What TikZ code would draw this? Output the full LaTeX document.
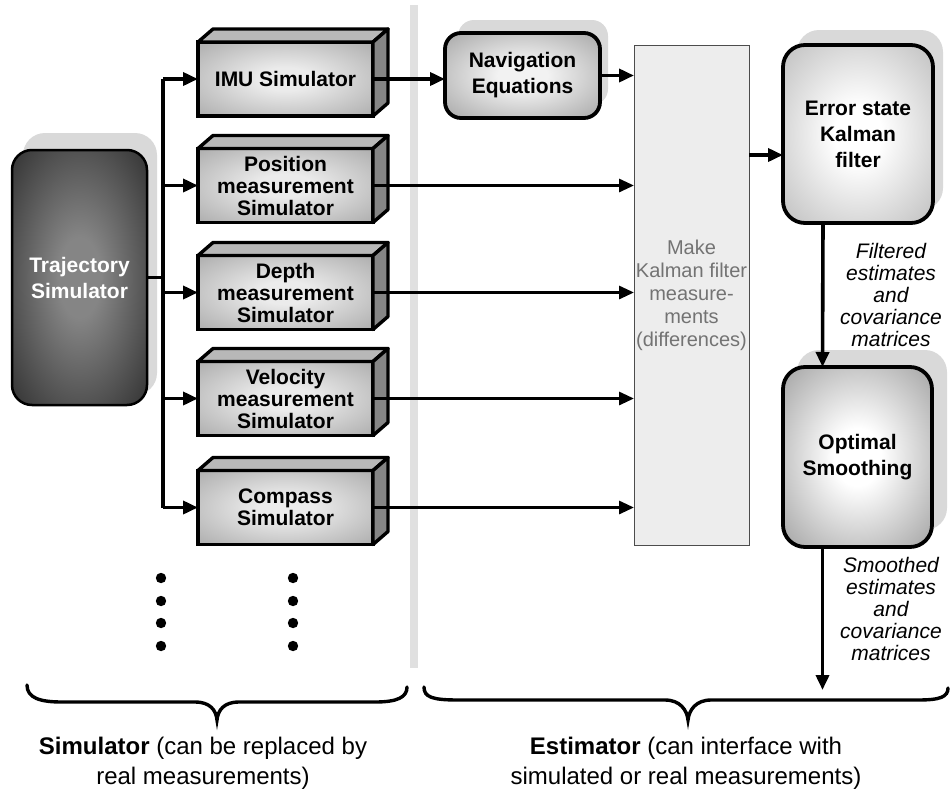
\documentclass[tikz,border=0pt]{standalone}
\usepackage{fontspec}
\setmainfont{Liberation Sans}
\usetikzlibrary{arrows.meta,calc}
\colorlet{glowin}{white}
\colorlet{glowout}{black!40}
\pgfdeclareradialshading[glowin,glowout]{softglow}{\pgfpoint{0bp}{0bp}}{%
  color(0bp)=(glowin); color(8bp)=(glowin); color(50bp)=(glowout)}
\newcommand\boxfaces[1]{%
  \filldraw[fill=black!28,line width=3.4pt,line join=round] (#1.north west) -- ++(15,-13) -- ($(#1.north east)+(15,-13)$) -- (#1.north east) -- cycle;
  \filldraw[fill=black!48,line width=3.4pt,line join=round] (#1.north east) -- ++(15,-13) -- ($(#1.south east)+(15,-13)$) -- (#1.south east) -- cycle;}
\begin{document}
\begin{tikzpicture}[x=1pt,y=-1pt,
  arr/.style={line width=3.6pt,-{Triangle[length=15pt,width=13pt]}},
  conn/.style={line width=3.6pt},
  simbox/.style={draw=black,line width=3.4pt,outer sep=0pt,minimum width=175pt,minimum height=74pt,
     align=center,inner sep=1pt,
     font=\fontsize{21}{22}\selectfont\bfseries},
  rbox/.style={draw=black,line width=3.8pt,outer sep=0pt,rounded corners=22pt,align=center,
     font=\fontsize{21}{26}\selectfont\bfseries},
  shadowbox/.style={fill=black!15,rounded corners=22pt},
  lbl/.style={align=center,font=\fontsize{21}{22}\selectfont\itshape},
  bottomtxt/.style={align=center,font=\fontsize{24}{30}\selectfont},
  brace/.style={line width=3.4pt,line cap=round}
]
\useasboundingbox (0,0) rectangle (951,798);

% divider
\draw[black!12,line width=8pt] (414,5) -- (414,668);

% shadows
\fill[shadowbox] (23,133) rectangle (157,395);
\fill[shadowbox,rounded corners=16pt] (458,20) rectangle (608,105);
\fill[shadowbox] (797,30) rectangle (943,210);
\fill[shadowbox] (797,350) rectangle (947,530);

% trajectory simulator
\colorlet{glowin}{black!48}\colorlet{glowout}{black!97}
\node[draw=black,line width=2.5pt,outer sep=0pt,rounded corners=20pt,minimum width=135pt,minimum height=255pt,
      shading=softglow,align=center,text=white,
      font=\fontsize{21}{26}\selectfont\bfseries] (traj) at (79.5,277.5) {Trajectory\\Simulator};

% simulator boxes
\colorlet{glowin}{black!8}\colorlet{glowout}{black!45}
\node[simbox,shading=softglow] (imu)  at (285.5,79)    {IMU Simulator};
\node[simbox,shading=softglow] (pos)  at (285.5,185.5) {Position\\measurement\\Simulator};
\node[simbox,shading=softglow] (dep)  at (285.5,292.5) {Depth\\measurement\\Simulator};
\node[simbox,shading=softglow] (vel)  at (285.5,398.5) {Velocity\\measurement\\Simulator};
\node[simbox,shading=softglow] (comp) at (285.5,507.5) {Compass\\Simulator};
\boxfaces{imu}\boxfaces{pos}\boxfaces{dep}\boxfaces{vel}\boxfaces{comp}

% estimator nodes
\colorlet{glowin}{black!5}\colorlet{glowout}{black!50}
\node[rbox,rounded corners=16pt,minimum width=155pt,minimum height=85pt,shading=softglow] (nav) at (522.5,75.5) {Navigation\\Equations};
\node[draw=black!70,line width=1pt,outer sep=0pt,fill=black!7,minimum width=115pt,minimum height=500pt,inner sep=0pt,align=center,
      text=black!55,font=\fontsize{20}{23}\selectfont] (make) at (691.5,295) {Make\\Kalman filter\\measure-\\ments\\(differences)};
\colorlet{glowin}{white}\colorlet{glowout}{black!38}
\node[rbox,minimum width=150pt,minimum height=178pt,shading=softglow] (kal) at (858,134) {Error state\\Kalman\\filter};
\colorlet{glowin}{white}\colorlet{glowout}{black!55}
\node[rbox,minimum width=149pt,minimum height=180pt,shading=softglow] (opt) at (857.5,457) {Optimal\\Smoothing};

% bus
\coordinate (busT) at (163,79);
\coordinate (busB) at (163,507.5);
\draw[conn] (busT) -- (busB);
\draw[line width=2.6pt] (traj.east) -- (busT |- traj.east);
\foreach \n in {imu,pos,dep,vel,comp}{
  \draw[arr] (busT |- \n.west) -- (\n.west);
}
% simulator outputs
\draw[arr] (imu.east) -- (nav.west |- imu.east);
\foreach \n in {pos,dep,vel,comp}{
  \draw[arr,line width=3pt] (\n.east) -- (make.west |- \n.east);
}
\draw[arr] (nav.east) -- (make.west |- nav.east);
\coordinate (mk) at (0,155);
\draw[arr] (make.east |- mk) -- (kal.west |- mk);
\draw[arr] ($(kal.south)+(-35,0)$) -- ($(opt.north)+(-35,0)$);
\coordinate (out) at (822.5,690);
\draw[arr] ($(opt.south)+(-35,0)$) -- (out);

% labels
\node[lbl] (flt) at (891,295) {Filtered\\estimates\\and\\covariance\\matrices};
\node[lbl] (smt) at (891,609) {Smoothed\\estimates\\and\\covariance\\matrices};

% dots
\foreach \y in {578,601,623,646}{
  \fill (161,\y) circle (5.2);
  \fill (293,\y) circle (5.2);
}

% braces
\draw[brace] (27,685) .. controls (27,698) and (40,702) .. (62,702) -- (195,702)
   .. controls (210,702) and (216,710) .. (217,720) .. controls (218,710) and (224,702) .. (239,702)
   -- (375,702) .. controls (398,702) and (407,697) .. (407,687);
\draw[brace] (424,687) .. controls (424,697) and (432,700) .. (458,700) -- (665,700)
   .. controls (680,700) and (687,710) .. (688,720) .. controls (689,710) and (696,700) .. (711,700)
   -- (918,700) .. controls (940,700) and (948,697) .. (948,688);

% bottom text
\node[bottomtxt] (simtxt) at (203,763) {\textbf{Simulator} (can be replaced by\\real measurements)};
\node[bottomtxt] (esttxt) at (686,763) {\textbf{Estimator} (can interface with\\simulated or real measurements)};
\end{tikzpicture}
\end{document}
